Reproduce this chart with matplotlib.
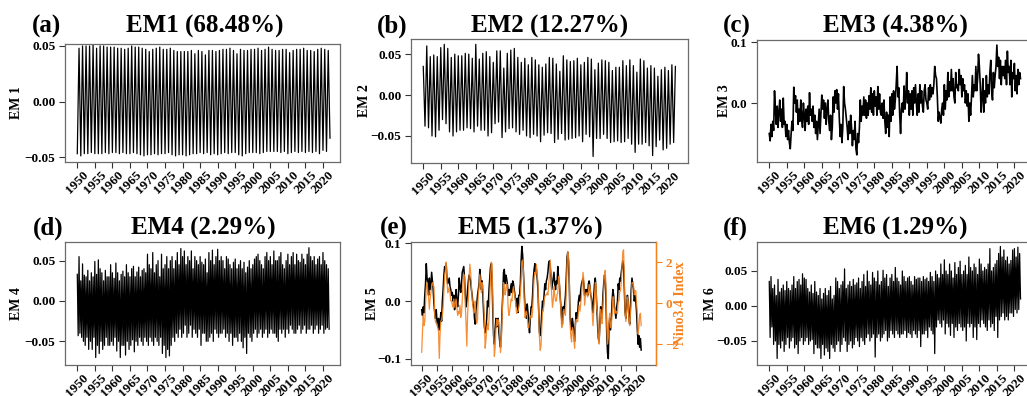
import numpy as np
import matplotlib
matplotlib.use('Agg')
from matplotlib import pyplot as plt
from matplotlib.ticker import FuncFormatter

plt.rcParams['font.family'] = ['Liberation Serif', 'DejaVu Serif']
plt.rcParams['font.weight'] = 'bold'

W, H = 1027, 396

years = [1950, 1955, 1960, 1965, 1970, 1975, 1980, 1985, 1990, 1995, 2000, 2005, 2010, 2015, 2020]
letters = ['(a)', '(b)', '(c)', '(d)', '(e)', '(f)']
titles = ['EM1 (68.48%)', 'EM2 (12.27%)', 'EM3 (4.38%)', 'EM4 (2.29%)', 'EM5 (1.37%)', 'EM6 (1.29%)']
ylabels = ['EM 1', 'EM 2', 'EM 3', 'EM 4', 'EM 5', 'EM 6']

# EM1: yearly troughs / peaks
em1_lo = [-0.047, -0.049, -0.047, -0.047, -0.046, -0.047, -0.047, -0.047, -0.046, -0.047,
          -0.046, -0.046, -0.047, -0.046, -0.047, -0.047, -0.046, -0.047, -0.048, -0.049,
          -0.048, -0.048, -0.047, -0.048, -0.047, -0.047, -0.046, -0.048, -0.049, -0.048,
          -0.048, -0.049, -0.048, -0.047, -0.047, -0.046, -0.047, -0.046, -0.048, -0.047,
          -0.048, -0.047, -0.046, -0.047, -0.046, -0.046, -0.048, -0.049, -0.047, -0.046,
          -0.046, -0.046, -0.047, -0.046, -0.045, -0.045, -0.045, -0.045, -0.046, -0.045,
          -0.047, -0.046, -0.045, -0.046, -0.045, -0.046, -0.045, -0.046, -0.045, -0.047,
          -0.044, -0.045, -0.033]
em1_hi = [0.048, 0.050, 0.050, 0.050, 0.051, 0.048, 0.050, 0.050, 0.049, 0.049,
          0.049, 0.048, 0.048, 0.047, 0.048, 0.050, 0.049, 0.049, 0.048, 0.047,
          0.045, 0.047, 0.048, 0.049, 0.047, 0.047, 0.048, 0.046, 0.045, 0.045,
          0.045, 0.045, 0.046, 0.043, 0.046, 0.045, 0.042, 0.046, 0.046, 0.045,
          0.046, 0.047, 0.047, 0.048, 0.046, 0.043, 0.047, 0.046, 0.046, 0.047,
          0.047, 0.048, 0.046, 0.047, 0.049, 0.047, 0.046, 0.046, 0.047, 0.047,
          0.044, 0.046, 0.047, 0.047, 0.048, 0.046, 0.046, 0.045, 0.047, 0.048,
          0.047, 0.046]

# EM2: yearly peaks / troughs
em2_hi = [0.035, 0.060, 0.047, 0.049, 0.047, 0.058, 0.062, 0.057, 0.046, 0.050,
          0.048, 0.048, 0.051, 0.050, 0.045, 0.062, 0.044, 0.051, 0.053, 0.047,
          0.040, 0.054, 0.054, 0.033, 0.051, 0.055, 0.057, 0.046, 0.040, 0.045,
          0.037, 0.046, 0.043, 0.037, 0.034, 0.038, 0.046, 0.045, 0.038, 0.029,
          0.048, 0.043, 0.041, 0.042, 0.045, 0.037, 0.040, 0.046, 0.044, 0.031,
          0.039, 0.043, 0.042, 0.040, 0.030, 0.034, 0.034, 0.042, 0.036, 0.043,
          0.036, 0.028, 0.044, 0.042, 0.033, 0.036, 0.033, 0.023, 0.031, 0.034,
          0.030, 0.037, 0.035]
em2_lo = [-0.038, -0.040, -0.050, -0.051, -0.043, -0.030, -0.035, -0.045, -0.050, -0.045,
          -0.043, -0.043, -0.040, -0.041, -0.045, -0.038, -0.043, -0.043, -0.050, -0.046,
          -0.035, -0.033, -0.052, -0.045, -0.041, -0.040, -0.045, -0.048, -0.043, -0.050,
          -0.052, -0.048, -0.050, -0.057, -0.049, -0.046, -0.047, -0.058, -0.054, -0.047,
          -0.055, -0.054, -0.053, -0.052, -0.050, -0.057, -0.048, -0.051, -0.075, -0.053,
          -0.053, -0.048, -0.053, -0.058, -0.057, -0.056, -0.058, -0.057, -0.053, -0.060,
          -0.070, -0.060, -0.060, -0.058, -0.062, -0.074, -0.063, -0.055, -0.067, -0.065,
          -0.060, -0.058]

# quarterly values, one row per year 1950-2021
em3 = [
    [-0.050, -0.062, -0.035, -0.055], [-0.030, -0.045, 0.020, -0.010], [-0.035, -0.005, -0.040, -0.015],
    [0.005, -0.030, -0.010, -0.040], [0.008, -0.035, -0.030, -0.055], [-0.035, -0.060, -0.045, -0.065],
    [-0.075, -0.050, -0.030, -0.045], [0.026, 0.000, 0.012, -0.015], [0.005, -0.035, -0.010, -0.030],
    [0.005, -0.025, -0.040, 0.000], [-0.020, -0.045, -0.010, -0.030], [-0.005, -0.035, 0.017, -0.020],
    [-0.010, -0.030, -0.005, -0.040], [-0.020, -0.050, -0.030, -0.060], [-0.035, -0.010, -0.050, -0.020],
    [0.013, -0.010, 0.005, -0.025], [0.000, -0.035, -0.010, 0.005], [-0.030, -0.045, -0.020, -0.060],
    [-0.040, 0.010, -0.015, 0.020], [0.000, 0.022, -0.010, 0.015], [-0.025, -0.055, -0.035, -0.065],
    [-0.040, 0.027, 0.000, -0.010], [-0.025, -0.040, -0.060, -0.030], [-0.050, -0.020, -0.040, -0.070],
    [-0.045, -0.060, -0.030, -0.075], [-0.085, -0.050, -0.065, -0.040], [0.005, -0.030, -0.005, -0.020],
    [0.010, -0.020, 0.005, -0.025], [0.000, -0.020, 0.012, -0.010], [0.025, -0.015, 0.015, -0.020],
    [0.020, -0.005, 0.010, -0.020], [0.027, -0.010, 0.015, -0.015], [-0.020, 0.000, -0.025, 0.005],
    [-0.030, -0.050, -0.015, -0.040], [-0.020, -0.055, 0.010, -0.030], [0.015, -0.020, 0.020, -0.010],
    [0.005, 0.030, 0.060, 0.010], [0.025, -0.020, -0.050, -0.010], [0.000, -0.015, 0.028, -0.010],
    [0.010, 0.050, 0.000, 0.020], [-0.020, 0.015, -0.010, 0.020], [-0.020, 0.025, 0.000, 0.030],
    [0.000, -0.020, 0.015, -0.015], [0.030, 0.000, 0.020, -0.005], [-0.015, 0.020, 0.030, 0.005],
    [0.000, -0.010, 0.025, 0.005], [0.030, 0.010, 0.025, 0.015], [0.030, 0.060, 0.045, 0.040],
    [0.010, -0.030, -0.015, -0.025], [-0.033, -0.010, 0.000, -0.020], [0.030, -0.010, 0.020, 0.005],
    [0.050, 0.010, 0.035, 0.020], [0.055, 0.020, 0.040, 0.010], [0.000, 0.050, 0.025, 0.030],
    [0.020, 0.055, 0.030, 0.045], [0.010, 0.040, 0.020, 0.030], [0.000, 0.020, -0.005, 0.015],
    [-0.030, 0.000, -0.020, 0.010], [0.045, 0.010, 0.030, 0.020], [0.060, 0.020, 0.040, 0.080],
    [0.060, 0.030, -0.015, 0.010], [0.040, -0.015, 0.020, 0.000], [0.045, 0.010, 0.030, 0.015],
    [0.050, 0.070, 0.020, 0.005], [0.050, 0.025, 0.045, 0.060], [0.095, 0.060, 0.075, 0.040],
    [0.070, 0.030, 0.060, 0.045], [0.060, 0.040, 0.070, 0.030], [0.085, 0.050, 0.060, 0.030],
    [0.070, 0.010, 0.050, 0.040], [0.065, 0.020, 0.045, 0.015], [0.055, 0.030, 0.050, 0.040]]

em4 = [
    [0.033, -0.043, 0.055, -0.040], [0.025, -0.045, 0.046, -0.050], [0.032, -0.055, 0.030, -0.045],
    [0.038, -0.060, 0.025, -0.050], [0.035, -0.060, 0.030, -0.045], [0.049, -0.070, 0.033, -0.055],
    [0.051, -0.065, 0.040, -0.050], [0.035, -0.060, 0.025, -0.055], [0.038, -0.045, 0.030, -0.055],
    [0.030, -0.055, 0.045, -0.050], [0.035, -0.055, 0.028, -0.045], [0.047, -0.062, 0.035, -0.050],
    [0.025, -0.070, 0.033, -0.055], [0.037, -0.055, 0.030, -0.067], [0.045, -0.050, 0.035, -0.060],
    [0.030, -0.055, 0.040, -0.048], [0.043, -0.063, 0.030, -0.050], [0.036, -0.055, 0.042, -0.045],
    [0.030, -0.050, 0.038, -0.055], [0.040, -0.045, 0.035, -0.050], [0.058, -0.055, 0.045, -0.045],
    [0.040, -0.050, 0.060, -0.055], [0.035, -0.045, 0.045, -0.050], [0.050, -0.055, 0.030, -0.045],
    [0.058, -0.065, 0.040, -0.055], [0.045, -0.070, 0.055, -0.060], [0.040, -0.068, 0.050, -0.055],
    [0.055, -0.045, 0.040, -0.050], [0.050, -0.040, 0.060, -0.045], [0.045, -0.035, 0.065, -0.045],
    [0.055, -0.040, 0.062, -0.030], [0.045, -0.045, 0.055, -0.040], [0.050, -0.030, 0.062, -0.045],
    [0.040, -0.035, 0.055, -0.040], [0.050, -0.045, 0.045, -0.035], [0.055, -0.055, 0.048, -0.040],
    [0.045, -0.040, 0.052, -0.050], [0.035, -0.050, 0.060, -0.045], [0.050, -0.040, 0.063, -0.050],
    [0.045, -0.035, 0.055, -0.040], [0.064, -0.045, 0.050, -0.040], [0.055, -0.040, 0.050, -0.035],
    [0.040, -0.045, 0.055, -0.040], [0.052, -0.050, 0.045, -0.040], [0.040, -0.055, 0.048, -0.045],
    [0.052, -0.045, 0.040, -0.050], [0.045, -0.040, 0.050, -0.050], [0.040, -0.058, 0.048, -0.045],
    [0.035, -0.065, 0.042, -0.040], [0.050, -0.045, 0.040, -0.050], [0.045, -0.040, 0.052, -0.035],
    [0.055, -0.045, 0.058, -0.040], [0.050, -0.035, 0.045, -0.045], [0.040, -0.040, 0.055, -0.035],
    [0.060, -0.045, 0.050, -0.040], [0.055, -0.035, 0.045, -0.040], [0.062, -0.040, 0.050, -0.045],
    [0.050, -0.050, 0.055, -0.035], [0.060, -0.040, 0.045, -0.035], [0.040, -0.045, 0.050, -0.035],
    [0.058, -0.040, 0.045, -0.030], [0.055, -0.035, 0.060, -0.040], [0.045, -0.040, 0.058, -0.035],
    [0.050, -0.030, 0.048, -0.040], [0.058, -0.035, 0.052, -0.030], [0.045, -0.040, 0.058, -0.035],
    [0.066, -0.035, 0.055, -0.030], [0.050, -0.040, 0.055, -0.035], [0.045, -0.030, 0.052, -0.040],
    [0.055, -0.035, 0.045, -0.030], [0.060, -0.040, 0.050, -0.035], [0.045, -0.033, 0.040, -0.035]]

em5 = [
    [-0.015, -0.025, -0.010, -0.020], [0.010, 0.030, 0.065, 0.040], [0.030, 0.010, 0.040, 0.020],
    [0.030, 0.050, 0.035, 0.020], [-0.005, -0.020, -0.030, -0.015], [-0.035, -0.045, -0.030, -0.050],
    [-0.040, -0.020, -0.035, 0.000], [0.020, 0.045, 0.060, 0.055], [0.065, 0.040, 0.030, 0.035],
    [0.040, 0.025, 0.020, 0.010], [0.015, 0.000, 0.010, -0.015], [0.005, 0.020, 0.000, -0.010],
    [0.010, 0.040, 0.025, 0.015], [0.030, 0.050, 0.055, 0.060], [0.040, 0.010, -0.010, 0.000],
    [0.020, 0.035, 0.045, 0.040], [0.035, 0.020, 0.010, -0.005], [-0.010, -0.030, -0.040, -0.015],
    [-0.005, 0.010, 0.020, 0.030], [0.055, 0.040, 0.020, 0.035], [0.010, -0.020, -0.045, -0.055],
    [-0.050, -0.030, 0.000, -0.010], [0.020, 0.040, 0.060, 0.065], [0.040, -0.020, -0.060, -0.075],
    [-0.050, -0.030, -0.045, -0.040], [-0.030, -0.055, -0.070, -0.080], [-0.060, -0.020, 0.010, 0.050],
    [0.055, 0.030, 0.045, 0.040], [0.030, 0.010, 0.020, 0.010], [0.020, 0.030, 0.015, 0.035],
    [0.030, 0.020, 0.010, 0.000], [-0.010, 0.005, -0.020, 0.010], [0.010, 0.030, 0.070, 0.095],
    [0.080, 0.050, 0.020, -0.010], [-0.015, -0.030, -0.005, -0.020], [-0.040, -0.055, -0.030, -0.010],
    [-0.010, 0.010, 0.040, 0.055], [0.065, 0.050, 0.055, 0.040], [0.020, -0.020, -0.055, -0.060],
    [-0.045, -0.020, 0.000, -0.010], [0.010, 0.030, 0.020, 0.035], [0.040, 0.050, 0.065, 0.070],
    [0.060, 0.045, 0.020, 0.030], [0.040, 0.050, 0.030, 0.020], [0.035, 0.030, 0.060, 0.040],
    [0.030, 0.010, -0.010, -0.030], [-0.040, -0.010, -0.020, -0.005], [0.010, 0.040, 0.075, 0.085],
    [0.070, 0.030, -0.030, -0.040], [-0.050, -0.030, -0.040, -0.055], [-0.070, -0.040, -0.020, -0.030],
    [-0.020, 0.000, 0.010, 0.000], [0.020, 0.030, 0.035, 0.040], [0.030, 0.010, 0.020, 0.015],
    [0.020, 0.010, 0.030, 0.035], [0.025, 0.010, 0.005, -0.010], [-0.020, 0.010, 0.030, 0.040],
    [0.020, -0.010, -0.040, -0.065], [-0.070, -0.040, -0.010, -0.030], [-0.020, 0.010, 0.030, 0.045],
    [0.040, 0.000, -0.060, -0.090], [-0.100, -0.040, -0.030, -0.050], [-0.030, 0.000, 0.020, 0.010],
    [-0.010, -0.020, -0.030, -0.010], [0.000, 0.030, 0.020, 0.040], [0.035, 0.050, 0.060, 0.070],
    [0.060, 0.020, -0.020, -0.030], [-0.010, 0.010, 0.000, -0.030], [-0.040, -0.010, 0.020, 0.040],
    [0.030, 0.020, 0.000, 0.010], [0.000, -0.020, -0.050, -0.075], [-0.060, -0.080, -0.065, -0.085]]

nino34 = [
    [-2.4, -1.4, -0.6, -1.1], [-0.9, 0.0, 0.8, 1.0], [0.6, 0.3, -0.3, 0.2], [0.5, 0.8, 1.0, 0.9],
    [0.8, -0.6, -0.9, -1.0], [-1.0, -1.2, -1.4, -2.7], [-1.5, -0.9, -0.8, -0.6], [-0.2, 0.6, 1.3, 1.6],
    [2.0, 1.1, 0.5, 0.6], [0.8, 0.5, 0.1, 0.1], [-0.1, -0.2, 0.2, -0.2], [0.0, 0.2, -0.2, -0.6],
    [-0.4, -0.5, -0.1, -0.7], [-0.5, 0.1, 0.9, 1.4], [1.3, -0.1, -1.0, -2.1], [-0.6, 0.2, 1.3, 1.9],
    [1.5, 0.8, 0.2, -0.2], [-0.5, -0.4, 0.1, -0.7], [-1.0, -0.8, 0.4, 0.8], [1.4, 1.0, 0.5, 1.0],
    [0.8, 0.1, -0.8, -2.2], [-1.8, -1.2, -1.0, -1.3], [-0.8, 0.3, 1.3, 2.0], [1.9, 0.1, -1.2, -2.6],
    [-2.2, -1.3, -0.8, -1.1], [-0.8, -1.0, -1.5, -2.4], [-2.0, -0.9, 0.3, 1.0], [0.9, 0.4, 0.6, 0.9],
    [0.9, -0.2, -0.6, -0.4], [-0.1, 0.2, 0.1, 0.6], [0.8, 0.5, 0.3, 0.0], [-0.5, -0.4, -0.4, -0.2],
    [0.0, 0.4, 1.2, 2.0], [2.1, 1.6, 0.3, -0.7], [-0.6, -0.4, -0.6, -1.2], [-1.2, -0.9, -0.7, -0.6],
    [-0.7, -0.4, 0.5, 1.2], [1.5, 1.4, 1.9, 1.4], [1.0, -0.6, -1.7, -2.3], [-2.1, -1.2, -0.4, -0.4],
    [0.1, 0.3, 0.4, 0.4], [0.5, 0.4, 0.9, 1.3], [2.1, 1.5, 0.4, -0.2], [0.1, 0.8, 0.4, 0.1],
    [0.1, 0.4, 0.5, 1.3], [1.1, 0.4, -0.3, -1.2], [-1.1, -0.5, -0.3, -0.5], [-0.6, 0.5, 1.9, 2.5],
    [2.3, 1.2, -1.0, -1.6], [-1.9, -1.2, -1.3, -1.8], [-2.2, -1.0, -0.8, -0.9], [-0.9, -0.4, -0.1, -0.4],
    [0.0, 0.4, 1.0, 1.5], [1.1, -0.1, 0.3, 0.5], [0.5, 0.3, 0.6, 0.9], [0.8, 0.5, 0.0, -0.5],
    [-1.1, -0.4, 0.3, 1.0], [0.9, -0.3, -0.5, -1.6], [-2.0, -1.1, -0.3, -0.6], [-1.0, -0.1, 0.6, 1.4],
    [1.6, 0.7, -1.2, -2.0], [-1.7, -0.8, -0.5, -1.2], [-1.1, -0.5, 0.3, 0.3], [-0.5, -0.3, -0.5, -0.4],
    [-0.5, 0.1, 0.1, 0.6], [0.6, 1.0, 1.8, 2.5], [2.6, 1.2, -0.5, -0.9], [-0.4, 0.3, 0.1, -0.9],
    [-1.1, -0.5, 0.1, 1.0], [1.0, 0.9, 0.4, 0.6], [0.6, 0.0, -0.5, -1.5], [-1.2, -0.6, -0.5, -1.1]]

em6 = [
    [0.035, -0.045, 0.042, -0.030], [0.025, -0.055, 0.030, -0.050], [0.015, -0.075, 0.038, -0.055],
    [0.020, -0.060, 0.025, -0.050], [0.030, -0.065, 0.022, -0.055], [0.035, -0.045, 0.025, -0.060],
    [0.022, -0.050, 0.030, -0.045], [0.042, -0.060, 0.025, -0.055], [0.035, -0.068, 0.038, -0.050],
    [0.030, -0.045, 0.046, -0.055], [0.040, -0.050, 0.038, -0.045], [0.025, -0.055, 0.020, -0.050],
    [0.030, -0.048, 0.018, -0.068], [0.035, -0.055, 0.020, -0.060], [0.015, -0.060, 0.025, -0.075],
    [0.010, -0.055, 0.018, -0.070], [0.025, -0.060, 0.015, -0.065], [0.022, -0.075, 0.028, -0.055],
    [0.010, -0.060, 0.015, -0.065], [0.040, -0.055, 0.035, -0.050], [0.025, -0.065, 0.030, -0.055],
    [0.035, -0.045, 0.053, -0.050], [0.025, -0.065, 0.030, -0.055], [0.035, -0.050, 0.028, -0.060],
    [0.038, -0.055, 0.030, -0.045], [0.033, -0.050, 0.040, -0.058], [0.025, -0.045, 0.035, -0.050],
    [0.045, -0.055, 0.028, -0.045], [0.050, -0.040, 0.035, -0.050], [0.030, -0.045, 0.048, -0.040],
    [0.040, -0.073, 0.035, -0.045], [0.050, -0.040, 0.030, -0.050], [0.035, -0.045, 0.051, -0.040],
    [0.040, -0.035, 0.045, -0.050], [0.028, -0.045, 0.040, -0.035], [0.045, -0.040, 0.035, -0.045],
    [0.055, -0.035, 0.040, -0.040], [0.035, -0.045, 0.030, -0.040], [0.050, -0.040, 0.042, -0.035],
    [0.035, -0.045, 0.040, -0.038], [0.042, -0.040, 0.035, -0.045], [0.030, -0.035, 0.042, -0.040],
    [0.038, -0.045, 0.040, -0.035], [0.040, -0.058, 0.035, -0.040], [0.042, -0.040, 0.038, -0.035],
    [0.040, -0.045, 0.035, -0.030], [0.048, -0.035, 0.042, -0.040], [0.035, -0.068, 0.050, -0.030],
    [0.045, -0.020, 0.040, -0.025], [0.060, -0.030, 0.045, -0.020], [0.066, -0.040, 0.050, -0.025],
    [0.045, -0.030, 0.060, -0.042], [0.050, -0.025, 0.040, -0.045], [0.062, -0.030, 0.045, -0.035],
    [0.055, -0.025, 0.064, -0.030], [0.045, -0.035, 0.050, -0.030], [0.058, -0.050, 0.045, -0.025],
    [0.070, -0.030, 0.055, -0.025], [0.050, -0.045, 0.060, -0.030], [0.055, -0.048, 0.045, -0.025],
    [0.067, -0.030, 0.060, -0.020], [0.050, -0.025, 0.055, -0.030], [0.052, -0.035, 0.060, -0.020],
    [0.082, -0.030, 0.050, -0.025], [0.055, -0.035, 0.060, -0.015], [0.065, -0.045, 0.075, -0.020],
    [0.085, -0.015, 0.070, -0.010], [0.080, -0.020, 0.065, -0.015], [0.070, -0.020, 0.060, -0.010],
    [0.065, -0.010, 0.080, -0.015], [0.082, -0.005, 0.070, -0.010], [0.084, -0.005, 0.075, 0.010]]


def interleave(first, second):
    out = []
    for i in range(len(first)):
        out.append(first[i])
        if i < len(second):
            out.append(second[i])
    return np.array(out)


def minus(fmt):
    return FuncFormatter(lambda v, p: (fmt % v).replace('-', '\u2212'))


s1 = interleave(em1_lo, em1_hi)
s2 = interleave(em2_hi, em2_lo)
t_half = 1950 + 0.5 * np.arange(len(s1))
t_half2 = 1950 + 0.5 * np.arange(len(s2))
s3 = np.ravel(em3)
s4 = np.ravel(em4)
s5 = np.ravel(em5)
s6 = np.ravel(em6)
n34 = np.ravel(nino34)
t_q = 1950 + 0.25 * np.arange(len(s3))

fig = plt.figure(figsize=(W / 100, H / 100), dpi=100)

# boxes in pixels: left, top, right, bottom
boxes = [(65, 44, 340, 162), (411, 39, 688, 163), (757, 40, 1034, 162),
         (65, 242, 340, 365), (411, 242, 656, 365), (757, 242, 1034, 365)]
xlims = [(1946.5, 2024.85), (1946.5, 2025.6), (1946.5, 2025.6),
         (1946.5, 2024.85), (1946.5, 2026.6), (1946.5, 2025.6)]
ylims = [(-0.0545, 0.0518), (-0.083, 0.0685), (-0.0967, 0.1033),
         (-0.0793, 0.0731), (-0.111, 0.1026), (-0.0843, 0.0914)]
yticks = [[-0.05, 0, 0.05], [-0.05, 0, 0.05], [0.0, 0.1],
          [-0.05, 0, 0.05], [-0.1, 0, 0.1], [-0.05, 0, 0.05]]
yfmts = ['%.2f', '%.2f', '%.1f', '%.2f', '%.1f', '%.2f']
series = [(t_half, s1), (t_half2, s2), (t_q, s3), (t_q, s4), (t_q, s5), (t_q, s6)]
widths = [0.9, 0.9, 1.2, 0.9, 1.1, 0.9]
title_x = [205, 550, 895, 203, 530, 895]
letter_x = [32, 377, 723, 33, 380, 723]
ylabel_x = [17, 364, 725, 17, 372, 710]

frame = '#6b6b6b'
orange = '#F5821F'

for i in range(6):
    l, t, r, b = boxes[i]
    ax = fig.add_axes([l / W, 1 - b / H, (r - l) / W, (b - t) / H])
    x, y = series[i]
    ax.plot(x, y, color='black', lw=widths[i])
    ax.set_xlim(*xlims[i])
    ax.set_ylim(*ylims[i])
    ax.set_xticks(years)
    ax.set_xticklabels([str(v) for v in years], rotation=45, ha='center', fontsize=9.5, fontweight='bold')
    ax.set_yticks(yticks[i])
    ax.yaxis.set_major_formatter(minus(yfmts[i]))
    ax.tick_params(axis='both', direction='out', length=4, width=0.8, color='#333333', labelsize=9.5)
    ax.tick_params(axis='x', pad=1)
    ax.tick_params(axis='y', pad=3)
    for sp in ax.spines.values():
        sp.set_color(frame)
        sp.set_linewidth(0.9)
    row_base = 33 if i < 3 else 235
    fig.text(title_x[i] / W, 1 - row_base / H, titles[i], ha='center', va='baseline',
             fontsize=18, fontweight='bold')
    fig.text(letter_x[i] / W, 1 - row_base / H, letters[i], ha='left', va='baseline',
             fontsize=18, fontweight='bold')
    fig.text(ylabel_x[i] / W, 1 - (t + b) / 2 / H, ylabels[i], ha='center', va='center',
             rotation=90, fontsize=10, fontweight='bold')

    if i == 4:
        ax2 = ax.twinx()
        ax2.plot(t_q, n34, color=orange, lw=0.9, alpha=0.9)
        ax2.set_ylim(-3.02, 2.98)
        ax2.set_yticks([-2, 0, 2])
        ax2.yaxis.set_major_formatter(minus('%d'))
        ax2.tick_params(axis='y', direction='out', length=4, width=0.8, color=orange,
                        labelcolor=orange, labelsize=9.5, pad=3)
        for name in ['left', 'top', 'bottom']:
            ax2.spines[name].set_visible(False)
        ax2.spines['right'].set_color(orange)
        ax2.spines['right'].set_linewidth(0.9)
        fig.text(680 / W, 1 - 303 / H, 'Nino3.4 Index', ha='center', va='center', rotation=90,
                 fontsize=10, fontweight='bold', color=orange)

fig.savefig('out.png', dpi=100)
